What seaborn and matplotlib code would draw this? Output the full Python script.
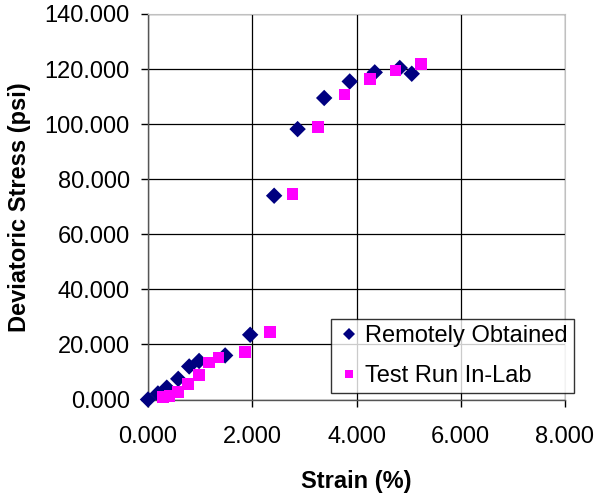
import pandas as pd
import matplotlib
matplotlib.use("Agg")
import matplotlib.pyplot as plt
import seaborn as sns

# Datos
remoto_strain = [0.00, 0.19, 0.36, 0.58, 0.79, 0.98, 1.48, 1.96, 2.42, 2.87, 3.38, 3.87, 4.35, 4.83, 5.06]
remoto_stress = [0.0, 2.2, 4.3, 7.5, 12.0, 14.0, 16.0, 23.5, 74.0, 98.2, 109.5, 115.5, 118.8, 120.4, 118.3]

lab_strain = [0.29, 0.41, 0.58, 0.77, 0.98, 1.17, 1.35, 1.86, 2.34, 2.77, 3.26, 3.77, 4.26, 4.75, 5.24]
lab_stress = [0.8, 1.3, 2.8, 5.6, 8.9, 13.5, 15.3, 17.3, 24.5, 74.6, 98.9, 110.8, 116.3, 119.5, 121.8]

series_names = ["Remotely Obtained", "Test Run In-Lab"]
x_ticks = [0, 2, 4, 6, 8]
y_ticks = [0, 20, 40, 60, 80, 100, 120, 140]

df = pd.concat([
    pd.DataFrame({"strain": remoto_strain, "stress": remoto_stress, "serie": series_names[0]}),
    pd.DataFrame({"strain": lab_strain, "stress": lab_stress, "serie": series_names[1]}),
])

sns.set_style("white")
plt.rcParams["font.family"] = ["Liberation Sans", "DejaVu Sans"]
plt.rcParams["text.color"] = "black"
plt.rcParams["axes.labelcolor"] = "black"
plt.rcParams["xtick.color"] = "black"
plt.rcParams["ytick.color"] = "black"

fs = 17

fig = plt.figure(figsize=(5.95, 4.95), dpi=100)
ax = fig.add_axes([148 / 595, 1 - 399.5 / 495, 417 / 595, 385.5 / 495])

sns.scatterplot(data=df, x="strain", y="stress", hue="serie", style="serie",
                palette={series_names[0]: "#000080", series_names[1]: "#FF00FF"},
                markers={series_names[0]: "D", series_names[1]: "s"},
                s=70, linewidth=0, ax=ax, zorder=3, clip_on=False)

ax.set_xlim(0, 8)
ax.set_ylim(0, 140)
ax.set_xticks(x_ticks)
ax.set_yticks(y_ticks)
ax.set_xticklabels([f"{v:.3f}" for v in x_ticks])
ax.set_yticklabels([f"{v:.3f}" for v in y_ticks])
ax.grid(True, color="black", linewidth=0.9)
ax.set_axisbelow(True)

for lado in ["top", "right"]:
    ax.spines[lado].set_color("#c0c0c0")
for lado in ["left", "bottom"]:
    ax.spines[lado].set_color("#555555")
    ax.spines[lado].set_linewidth(1.0)

ax.tick_params(axis="x", labelsize=fs, direction="out", length=5, width=1, bottom=True, pad=14)
ax.tick_params(axis="y", labelsize=fs, direction="out", length=5, width=1, left=True, pad=8)

ax.set_xlabel("Strain (%)", fontsize=fs, fontweight="bold", labelpad=16)
ax.set_ylabel("Deviatoric Stress (psi)", fontsize=fs, fontweight="bold", labelpad=10)

handles, labels = ax.get_legend_handles_labels()
leg = ax.legend(handles, labels, loc="lower right",
                bbox_to_anchor=(574 / 595, 1 - 393 / 495), bbox_transform=fig.transFigure,
                borderaxespad=0, fontsize=fs, frameon=True, fancybox=False,
                handletextpad=0.2, handlelength=1.0, borderpad=0.25, labelspacing=0.75,
                markerscale=0.75)
leg.get_frame().set_edgecolor("black")
leg.get_frame().set_linewidth(1.0)

fig.savefig("out.png", dpi=100)
